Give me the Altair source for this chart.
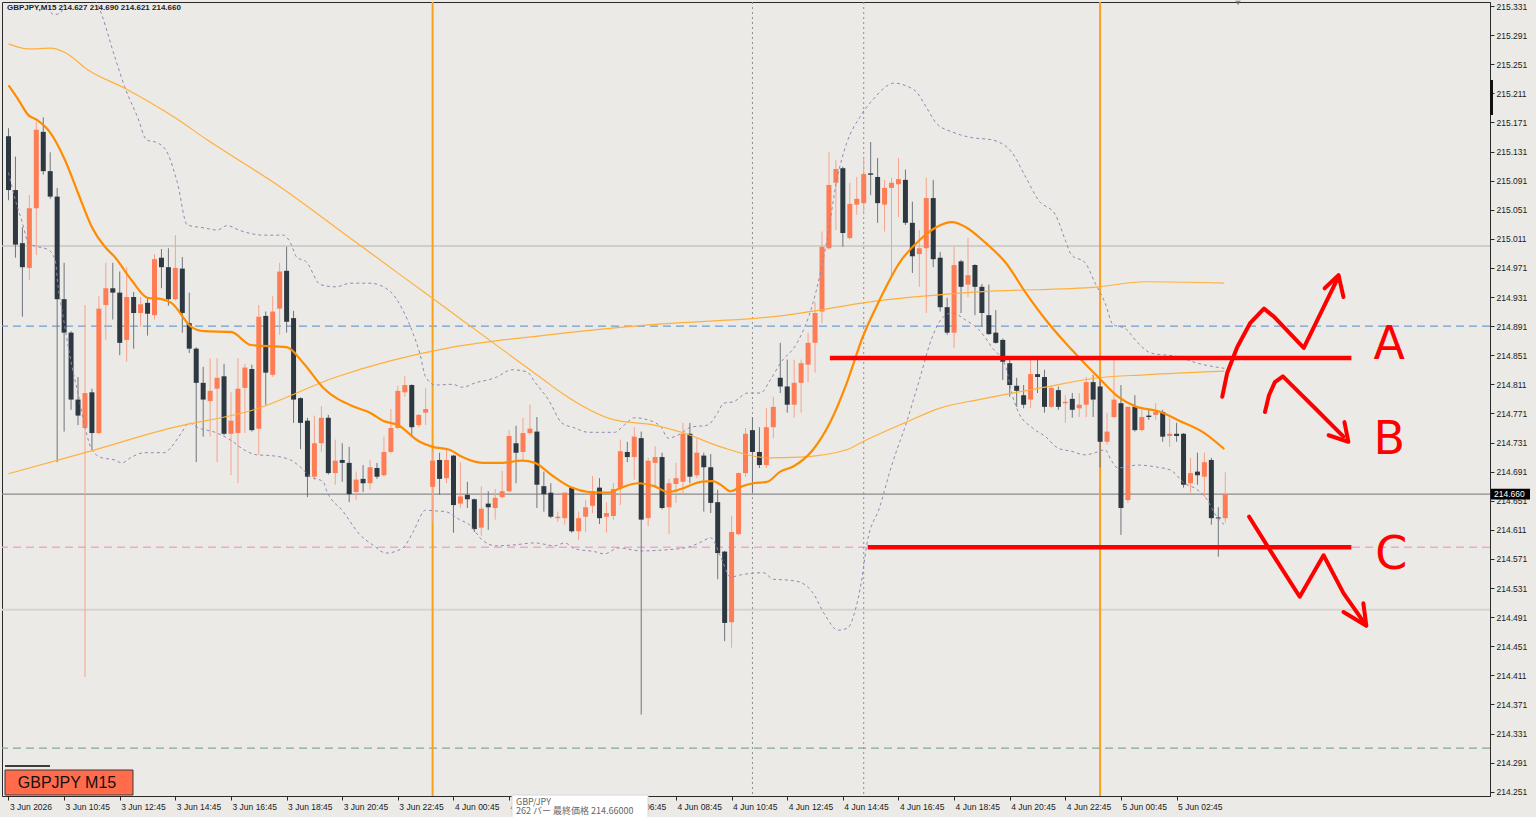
import altair as alt
import pandas as pd

# ---------------- data ----------------
# GBPJPY M15 candles, bar 0 = 3 Jun 2026 08:45 (one bar per 15 minutes)
opens = [
    215.152, 215.078, 215.005, 214.971, 215.053, 215.158, 215.104, 215.069, 214.928, 214.882,
    214.790, 214.751, 214.800, 214.744, 214.920, 214.943, 214.937, 214.872, 214.931, 214.909,
    214.923, 214.906, 214.985, 214.972, 214.928, 214.970, 214.895, 214.860, 214.813, 214.788,
    214.805, 214.822, 214.743, 214.744, 214.806, 214.832, 214.750, 214.905, 214.824, 214.915,
    214.967, 214.902, 214.792, 214.761, 214.684, 214.730, 214.765, 214.689, 214.707, 214.703,
    214.663, 214.681, 214.675, 214.696, 214.686, 214.718, 214.751, 214.800, 214.810, 214.755,
    214.772, 214.670, 214.707, 214.682, 214.713, 214.647, 214.659, 214.653, 214.614, 214.647,
    214.641, 214.656, 214.664, 214.730, 214.718, 214.744, 214.746, 214.671, 214.662, 214.627,
    214.627, 214.669, 214.609, 214.629, 214.644, 214.669, 214.629, 214.630, 214.669, 214.718,
    214.711, 214.737, 214.627, 214.703, 214.711, 214.642, 214.674, 214.677, 214.743, 214.686,
    214.713, 214.697, 214.649, 214.581, 214.484, 214.605, 214.689, 214.748, 214.718, 214.700,
    214.752, 214.820, 214.808, 214.783, 214.813, 214.838, 214.868, 214.911, 214.998, 215.088,
    215.108, 215.012, 215.058, 215.060, 215.101, 215.096, 215.058, 215.081, 215.086, 215.092,
    215.033, 214.990, 214.998, 215.067, 214.985, 214.917, 214.882, 214.980, 214.948, 214.975,
    214.945, 214.906, 214.882, 214.872, 214.840, 214.809, 214.796, 214.790, 214.825, 214.821,
    214.780, 214.803, 214.785, 214.791, 214.778, 214.783, 214.814, 214.808, 214.732, 214.766,
    214.785, 214.652, 214.780, 214.748, 214.768, 214.769, 214.773, 214.740, 214.743, 214.743,
    214.675, 214.691, 214.684, 214.707, 214.628, 214.627,
]
highs = [
    215.163, 215.124, 215.027, 215.071, 215.172, 215.178, 215.130, 215.081, 214.978, 214.884,
    214.821, 214.920, 214.805, 214.932, 214.978, 214.978, 214.966, 214.972, 214.938, 214.931,
    214.930, 214.990, 214.997, 214.998, 215.016, 214.986, 214.937, 214.862, 214.835, 214.847,
    214.847, 214.839, 214.800, 214.847, 214.839, 214.838, 214.920, 214.911, 214.932, 214.978,
    215.000, 214.912, 214.793, 214.765, 214.768, 214.781, 214.769, 214.735, 214.730, 214.725,
    214.691, 214.700, 214.707, 214.703, 214.739, 214.777, 214.809, 214.822, 214.811, 214.770,
    214.806, 214.718, 214.717, 214.721, 214.714, 214.704, 214.677, 214.654, 214.671, 214.664,
    214.667, 214.692, 214.748, 214.754, 214.765, 214.783, 214.766, 214.691, 214.675, 214.636,
    214.663, 214.670, 214.636, 214.652, 214.685, 214.682, 214.649, 214.675, 214.735, 214.732,
    214.752, 214.746, 214.710, 214.726, 214.717, 214.681, 214.703, 214.758, 214.758, 214.737,
    214.717, 214.715, 214.666, 214.582, 214.630, 214.690, 214.751, 214.766, 214.752, 214.778,
    214.794, 214.868, 214.845, 214.845, 214.845, 214.882, 214.924, 215.021, 215.130, 215.119,
    215.110, 215.088, 215.096, 215.122, 215.144, 215.122, 215.092, 215.095, 215.122, 215.106,
    215.062, 215.023, 215.095, 215.092, 214.993, 214.930, 215.000, 214.982, 215.012, 214.976,
    214.949, 214.948, 214.913, 214.874, 214.845, 214.820, 214.810, 214.845, 214.845, 214.831,
    214.808, 214.808, 214.796, 214.799, 214.799, 214.821, 214.824, 214.821, 214.772, 214.849,
    214.810, 214.781, 214.796, 214.776, 214.778, 214.785, 214.776, 214.765, 214.758, 214.744,
    214.710, 214.717, 214.717, 214.710, 214.642, 214.690,
]
lows = [
    215.064, 214.985, 214.904, 214.954, 214.989, 215.099, 215.066, 214.704, 214.746, 214.776,
    214.755, 214.409, 214.721, 214.742, 214.872, 214.900, 214.851, 214.842, 214.860, 214.890,
    214.878, 214.900, 214.943, 214.919, 214.926, 214.882, 214.854, 214.704, 214.739, 214.739,
    214.704, 214.741, 214.686, 214.675, 214.744, 214.746, 214.714, 214.783, 214.821, 214.879,
    214.882, 214.758, 214.722, 214.656, 214.680, 214.718, 214.687, 214.673, 214.677, 214.649,
    214.652, 214.663, 214.666, 214.681, 214.684, 214.716, 214.749, 214.794, 214.741, 214.752,
    214.755, 214.622, 214.659, 214.675, 214.607, 214.641, 214.641, 214.608, 214.603, 214.611,
    214.625, 214.654, 214.663, 214.675, 214.707, 214.742, 214.641, 214.636, 214.627, 214.622,
    214.618, 214.607, 214.597, 214.608, 214.634, 214.619, 214.607, 214.625, 214.645, 214.704,
    214.680, 214.357, 214.616, 214.670, 214.639, 214.605, 214.648, 214.659, 214.675, 214.682,
    214.636, 214.634, 214.543, 214.458, 214.449, 214.603, 214.684, 214.662, 214.696, 214.696,
    214.737, 214.799, 214.772, 214.765, 214.772, 214.814, 214.827, 214.895, 214.996, 215.023,
    215.000, 215.010, 215.044, 215.047, 215.071, 215.033, 215.021, 214.961, 215.041, 215.030,
    214.964, 214.945, 214.909, 214.972, 214.911, 214.879, 214.861, 214.909, 214.931, 214.906,
    214.890, 214.879, 214.867, 214.817, 214.794, 214.780, 214.778, 214.778, 214.799, 214.772,
    214.778, 214.776, 214.758, 214.765, 214.766, 214.766, 214.766, 214.697, 214.728, 214.765,
    214.604, 214.648, 214.746, 214.746, 214.762, 214.762, 214.732, 214.725, 214.732, 214.669,
    214.662, 214.673, 214.656, 214.618, 214.574, 214.621,
]
closes = [
    215.078, 215.003, 214.972, 215.053, 215.161, 215.104, 215.069, 214.928, 214.882, 214.790,
    214.768, 214.799, 214.744, 214.915, 214.943, 214.937, 214.868, 214.931, 214.909, 214.921,
    214.908, 214.983, 214.972, 214.928, 214.971, 214.909, 214.860, 214.813, 214.790, 214.802,
    214.820, 214.743, 214.761, 214.805, 214.834, 214.748, 214.904, 214.827, 214.911, 214.966,
    214.897, 214.790, 214.758, 214.684, 214.730, 214.765, 214.689, 214.706, 214.703, 214.660,
    214.680, 214.675, 214.697, 214.684, 214.718, 214.751, 214.802, 214.810, 214.752, 214.769,
    214.777, 214.706, 214.681, 214.707, 214.645, 214.657, 214.653, 214.612, 214.640, 214.642,
    214.655, 214.664, 214.740, 214.717, 214.744, 214.750, 214.673, 214.660, 214.629, 214.629,
    214.662, 214.609, 214.627, 214.642, 214.664, 214.627, 214.634, 214.667, 214.719, 214.711,
    214.739, 214.625, 214.706, 214.711, 214.641, 214.675, 214.682, 214.743, 214.684, 214.717,
    214.697, 214.648, 214.579, 214.483, 214.608, 214.689, 214.743, 214.718, 214.700, 214.752,
    214.780, 214.808, 214.783, 214.813, 214.840, 214.868, 214.909, 215.000, 215.085, 215.107,
    215.019, 215.059, 215.066, 215.100, 215.099, 215.060, 215.081, 215.088, 215.093, 215.033,
    214.987, 214.998, 215.067, 214.983, 214.917, 214.882, 214.975, 214.945, 214.961, 214.945,
    214.909, 214.880, 214.868, 214.842, 214.810, 214.802, 214.783, 214.825, 214.821, 214.780,
    214.806, 214.780, 214.787, 214.776, 214.783, 214.814, 214.790, 214.732, 214.746, 214.790,
    214.641, 214.780, 214.748, 214.766, 214.766, 214.773, 214.739, 214.743, 214.740, 214.673,
    214.689, 214.686, 214.704, 214.627, 214.627, 214.660,
]

# time-axis labels (every 8 bars = 2 hours); the 04:45 one sits under the tooltip
time_labels = [
    "3 Jun 2026", "3 Jun 10:45", "3 Jun 12:45", "3 Jun 14:45", "3 Jun 16:45", "3 Jun 18:45",
    "3 Jun 20:45", "3 Jun 22:45", "4 Jun 00:45", "4 Jun 02:45", "", "4 Jun 06:45",
    "4 Jun 08:45", "4 Jun 10:45", "4 Jun 12:45", "4 Jun 14:45", "4 Jun 16:45", "4 Jun 18:45",
    "4 Jun 20:45", "4 Jun 22:45", "5 Jun 00:45", "5 Jun 02:45",
]
label_bars = [0, 8, 16, 24, 32, 40, 48, 56, 64, 72, 80, 88, 96, 104, 112, 120, 128, 136, 144,
              152, 160, 168]
price_ticks = [214.251, 214.291, 214.331, 214.371, 214.411, 214.451, 214.491, 214.531, 214.571,
               214.611, 214.651, 214.691, 214.731, 214.771, 214.811, 214.851, 214.891, 214.931,
               214.971, 215.011, 215.051, 215.091, 215.131, 215.171, 215.211, 215.251, 215.291,
               215.331]

# fast moving average (thick orange)
ma_fast_bar = [0, 1.43, 2.86, 4.14, 6, 8.14, 10, 12, 13.86, 15.29, 17.71, 20, 22, 23.43, 26.29,
               28.14, 32, 34.86, 40, 42.43, 45.29, 50, 52, 53.86, 56, 59.14, 61, 63.43, 65.29,
               68.14, 71, 73.86, 75.71, 78.14, 81, 83.43, 86.29, 88.14, 90.57, 92.86, 94.86,
               96.71, 99.57, 101.29, 102.43, 103.86, 105.29, 107.14, 109.14, 111, 112.86, 115.71,
               118.14, 120.57, 122.86, 125.29, 128.14, 131, 133.43, 135.71, 137.71, 140.57,
               143.43, 146.29, 149.14, 152, 153.86, 156.71, 159.57, 162, 165.71, 168.14, 172,
               174.86]
ma_fast_val = [215.222, 215.202, 215.181, 215.174, 215.157, 215.119, 215.074, 215.027, 215.000,
               214.986, 214.954, 214.930, 214.928, 214.923, 214.890, 214.884, 214.883, 214.865,
               214.862, 214.840, 214.806, 214.779, 214.772, 214.761, 214.755, 214.732, 214.725,
               214.721, 214.711, 214.703, 214.703, 214.706, 214.703, 214.686, 214.669, 214.663,
               214.662, 214.669, 214.675, 214.671, 214.663, 214.667, 214.677, 214.678, 214.673,
               214.664, 214.670, 214.675, 214.677, 214.691, 214.698, 214.721, 214.758, 214.813,
               214.876, 214.927, 214.978, 215.009, 215.027, 215.034, 215.027, 215.005, 214.978,
               214.937, 214.900, 214.868, 214.849, 214.821, 214.794, 214.781, 214.773, 214.762,
               214.744, 214.722]
# middle moving average (thin orange, falling then flat)
ma_mid_bar = [0, 2.86, 6, 8.14, 11.43, 16.71, 23.86, 28.57, 39.14, 49.57, 56.71, 63.86, 77,
              79.57, 87.14, 92.86, 97.14, 102.43, 109.14, 113.86, 120.57, 122.86, 129.14,
              133.86, 139.57, 149.14, 156.71, 163.43, 174.86]
ma_mid_val = [215.279, 215.272, 215.273, 215.267, 215.243, 215.218, 215.178, 215.147, 215.082,
              215.009, 214.959, 214.909, 214.817, 214.799, 214.762, 214.755, 214.744, 214.725,
              214.710, 214.711, 214.721, 214.732, 214.759, 214.778, 214.790, 214.807, 214.820,
              214.824, 214.829]
# slow moving average (thin orange, rising)
ma_slow_bar = [0, 11, 23.43, 35.29, 47.14, 63.86, 76.71, 92.43, 111, 125.29, 139.57, 156.71,
               163.43, 174.86]
ma_slow_val = [214.688, 214.717, 214.751, 214.776, 214.821, 214.862, 214.878, 214.893, 214.905,
               214.926, 214.938, 214.945, 214.952, 214.950]
# Bollinger upper band
bb_up_bar = [0, 3.86, 5.71, 6.43, 7.43, 8.14, 9.86, 11.71, 12.86, 15.29, 16.71, 18.57, 19.86,
             21.43, 22.86, 24.29, 25.71, 28.14, 30, 31.43, 33.43, 36.71, 39.57, 40.57, 41.43,
             42.86, 44.86, 47.14, 49.14, 52, 54.86, 56.71, 58.14, 59.14, 60, 61.43, 63.86, 65.29,
             67.14, 70, 72.43, 74.57, 75.71, 77.71, 79.57, 81.43, 83.43, 87.14, 88.57, 90, 92,
             93.86, 94.86, 96.29, 98.14, 100.57, 102, 102.86, 104.29, 106.29, 108.14, 109.57,
             111, 113.43, 115.71, 117.71, 119.14, 120.57, 122.43, 124.29, 127.43, 129.14,
             130.57, 132, 133.43, 135.71, 138.57, 141.43, 144.29, 146.29, 148.14, 150.57, 152,
             152.86, 154.86, 156.29, 157.71, 158.86, 160.57, 162.43, 164.29, 168.14, 171,
             174.86]
bb_up_val = [215.422, 215.360, 215.332, 215.319, 215.321, 215.334, 215.350, 215.348, 215.332,
             215.261, 215.220, 215.178, 215.147, 215.143, 215.129, 215.088, 215.030, 215.026,
             215.023, 215.029, 215.022, 215.016, 215.016, 215.005, 214.986, 214.979, 214.948,
             214.945, 214.950, 214.950, 214.939, 214.913, 214.882, 214.854, 214.821, 214.810,
             214.811, 214.807, 214.813, 214.820, 214.831, 214.828, 214.814, 214.789, 214.758,
             214.751, 214.745, 214.745, 214.755, 214.765, 214.762, 214.752, 214.737, 214.741,
             214.752, 214.755, 214.772, 214.785, 214.787, 214.799, 214.799, 214.817, 214.840,
             214.868, 214.923, 215.009, 215.092, 215.143, 215.178, 215.202, 215.225, 215.221,
             215.213, 215.192, 215.170, 215.158, 215.150, 215.147, 215.130, 215.096, 215.064,
             215.044, 215.009, 214.989, 214.978, 214.950, 214.923, 214.893, 214.888, 214.868,
             214.854, 214.849, 214.840, 214.833]
# Bollinger lower band
bb_lo_bar = [0, 1, 2, 2.86, 4.29, 5.71, 6.71, 7.14, 7.86, 9.14, 10, 11, 12, 13.43, 15.29, 16.29,
             17.71, 19.57, 22.43, 23.43, 24.86, 26, 27.14, 30, 32, 33.86, 35.71, 37.71, 40.57,
             42, 43.43, 45.29, 45.71, 48.14, 50.57, 52.43, 54.29, 56.71, 58.14, 60, 61.43,
             62.86, 64.86, 66.29, 68.14, 70, 72.43, 75.71, 78.57, 80, 81.43, 84.29, 85.71,
             87.71, 91, 93.86, 97.71, 99.57, 101, 102.43, 103.86, 105.29, 108.57, 110, 112,
             113.86, 115.57, 117.43, 119.29, 120.71, 121.71, 122.71, 123.43, 125.29, 127.14,
             129.14, 131, 132.86, 134.29, 135.71, 137.71, 139.57, 141.43, 143.43, 144.29,
             145.29, 147.14, 149.14, 151, 152.86, 154.86, 156.29, 157.71, 158.57, 159.57,
             162.43, 165.29, 167.14, 169.14, 171, 172.43, 173.43, 174.86]
bb_lo_val = [215.102, 215.064, 215.033, 215.005, 215.000, 214.996, 214.982, 214.945, 214.904,
             214.835, 214.799, 214.752, 214.721, 214.710, 214.707, 214.703, 214.711, 214.717,
             214.717, 214.725, 214.744, 214.758, 214.752, 214.744, 214.734, 214.721, 214.714,
             214.713, 214.707, 214.697, 214.684, 214.677, 214.666, 214.636, 214.604, 214.590,
             214.579, 214.586, 214.607, 214.638, 214.637, 214.636, 214.625, 214.618, 214.597,
             214.589, 214.590, 214.593, 214.589, 214.593, 214.585, 214.581, 214.578, 214.586,
             214.582, 214.583, 214.587, 214.594, 214.600, 214.574, 214.546, 214.549, 214.552,
             214.543, 214.542, 214.539, 214.526, 214.494, 214.473, 214.476, 214.498, 214.542,
             214.590, 214.642, 214.703, 214.758, 214.817, 214.876, 214.902, 214.909, 214.899,
             214.886, 214.862, 214.835, 214.799, 214.772, 214.752, 214.739, 214.723, 214.719,
             214.714, 214.717, 214.721, 214.707, 214.696, 214.700, 214.697, 214.693, 214.675,
             214.666, 214.652, 214.634, 214.618]

# horizontal price levels drawn on the chart
level_upper_grey = 215.001
level_blue = 214.891
level_pink = 214.587
level_lower_grey = 214.501
level_green = 214.311
# day separators and dotted vertical marks (bar numbers)
day_separator_bars = [61, 157]
dotted_mark_bars = [107, 123]

# hand-drawn scenario annotation (bar, price)
red_levels_price = [214.847, 214.587]
red_levels_from = [118.14, 123.57]
red_levels_to = [193.14, 193.14]
red_path_id = (["A"] * 8 + ["Ah"] * 3 + ["B"] * 7 + ["Bh"] * 3 + ["C"] * 6 + ["Ch"] * 3)
red_path_bar = [174.57, 175.29, 176.71, 178.57, 180.57, 182.0, 186.29, 191.29,
                189.29, 191.29, 192.0,
                180.71, 181.29, 182.14, 183.29, 185.29, 188.14, 192.0,
                189.86, 192.71, 192.14,
                178.43, 181.43, 185.71, 189.14, 192.0, 195.0,
                192.0, 195.29, 194.86]
red_path_price = [214.794, 214.827, 214.862, 214.895, 214.915, 214.904, 214.861, 214.959,
                  214.943, 214.961, 214.931,
                  214.773, 214.796, 214.814, 214.822, 214.803, 214.776, 214.739,
                  214.741, 214.732, 214.759,
                  214.629, 214.583, 214.519, 214.576, 214.524, 214.483,
                  214.498, 214.479, 214.510]
scenario_letters = ["A", "B", "C"]
scenario_letter_bar = [198.6, 198.6, 198.9]
scenario_letter_price = [214.865, 214.735, 214.576]

# ---------------- styling ----------------
BG = "#ECEAE6"
UP = "#FF7D55"
UP_WICK = "#F6A38B"
DN = "#2D3841"
DN_WICK = "#6E757C"
MA_FAST = "#FF8C00"
MA_THIN = "#FFB03C"
BB = "#9288B2"
RED = "#FF0000"
FONT = "Liberation Sans"

W, H = 1488, 794
xs = alt.Scale(domain=[-0.2143, 212.357], nice=False, zero=False)
ys = alt.Scale(domain=[214.2451, 215.3365], nice=False, zero=False)

label_expr = "[" + ",".join("'%s'" % s for s in time_labels) + "][round(datum.value / 8)]"
x_axis = alt.Axis(values=label_bars, labelExpr=label_expr, grid=False, title=None,
                  orient="bottom", domainColor="#2a2a2a", tickColor="#2a2a2a", tickSize=4,
                  labelAlign="left", labelBaseline="top", labelPadding=2, labelOffset=1,
                  labelFontSize=8.5, labelFont=FONT, labelColor="#1a1a1a", labelOverlap=False,
                  labelFlush=False)
y_axis = alt.Axis(values=price_ticks, format=".3f", grid=False, title=None, orient="right",
                  domainColor="#2a2a2a", tickColor="#2a2a2a", tickSize=4, labelPadding=2,
                  labelFontSize=8.5, labelFont=FONT, labelColor="#1a1a1a", labelOverlap=False,
                  labelFlush=False)


def xq(f):
    return alt.X(f, type="quantitative", scale=xs, axis=x_axis)


def yq(f):
    return alt.Y(f, type="quantitative", scale=ys, axis=y_axis)


bars = pd.DataFrame({"bar": list(range(len(opens))), "open": opens, "high": highs,
                     "low": lows, "close": closes})
is_up = "datum.close >= datum.open"


def hline(price, color, width, dash=None):
    kw = dict(color=color, strokeWidth=width)
    if dash:
        kw["strokeDash"] = dash
    return alt.Chart(pd.DataFrame({"price": [price]})).mark_rule(**kw).encode(y=yq("price"))


def vlines(bar_list, color, width, dash=None):
    kw = dict(color=color, strokeWidth=width)
    if dash:
        kw["strokeDash"] = dash
    return alt.Chart(pd.DataFrame({"bar": bar_list})).mark_rule(**kw).encode(x=xq("bar"))


def curve(bx, vals, color, width, dash=None):
    kw = dict(color=color, strokeWidth=width, clip=True, interpolate="monotone")
    if dash:
        kw["strokeDash"] = dash
    df = pd.DataFrame({"bar": bx, "price": vals})
    return alt.Chart(df).mark_line(**kw).encode(x=xq("bar"), y=yq("price"))


wicks = alt.Chart(bars).mark_rule(strokeWidth=1, clip=True).encode(
    x=xq("bar"), y=yq("low"), y2="high",
    color=alt.condition(is_up, alt.value(UP_WICK), alt.value(DN_WICK)),
)
bodies = alt.Chart(bars).transform_calculate(
    b_hi="max(datum.open, datum.close)",
    b_lo="min(datum.open, datum.close) - max(0, 0.0014 - abs(datum.close - datum.open))",
).mark_bar(size=5, clip=True).encode(
    x=xq("bar"), y=yq("b_lo"), y2="b_hi:Q",
    color=alt.condition(is_up, alt.value(UP), alt.value(DN)),
)

layers = [
    bodies.mark_bar(size=5, clip=True, opacity=0),  # axes carrier
    hline(level_upper_grey, "#C6C4C0", 1.5),
    hline(level_lower_grey, "#D6D4D0", 2),
    hline(level_blue, "#6E9DD2", 1.2, [8, 5]),
    hline(level_pink, "#F2A6CC", 1.5, [8, 5]),
    hline(level_green, "#7FAE8E", 1.2, [8, 5]),
    hline(closes[-1], "#8A8A8A", 1.2),
    vlines(dotted_mark_bars, "#8E8E8E", 1, [2, 3]),
    vlines(day_separator_bars, "#F6A21E", 2),
    wicks,
    bodies,
    curve(bb_up_bar, bb_up_val, BB, 1, [3, 3]),
    curve(bb_lo_bar, bb_lo_val, BB, 1, [3, 3]),
    curve(ma_slow_bar, ma_slow_val, MA_THIN, 1.2),
    curve(ma_mid_bar, ma_mid_val, MA_THIN, 1.2),
    curve(ma_fast_bar, ma_fast_val, MA_FAST, 2.2),
]

# red scenario drawing
red_lv = pd.DataFrame({"price": red_levels_price, "b0": red_levels_from, "b1": red_levels_to})
layers.append(alt.Chart(red_lv).mark_rule(color=RED, strokeWidth=4.5).encode(
    x=xq("b0"), x2="b1", y=yq("price")))
red_df = pd.DataFrame({"seg": red_path_id, "bar": red_path_bar, "price": red_path_price,
                       "ord": list(range(len(red_path_bar)))})
layers.append(alt.Chart(red_df).mark_line(color=RED, strokeWidth=4, strokeCap="round",
                                          strokeJoin="round").encode(
    x=xq("bar"), y=yq("price"), detail="seg:N", order="ord:Q"))
letters = pd.DataFrame({"t": scenario_letters, "bar": scenario_letter_bar,
                        "price": scenario_letter_price})
layers.append(alt.Chart(letters).mark_text(color=RED, fontSize=46, font="DejaVu Sans",
                                           align="center", baseline="middle").encode(
    x=xq("bar"), y=yq("price"), text="t:N"))

# header text with the last bar's OHLC
title_text = "GBPJPY,M15  %.3f %.3f %.3f %.3f" % (opens[-1], highs[-1], lows[-1], closes[-1])
one = pd.DataFrame({"t": [title_text]})
layers.append(alt.Chart(one).mark_text(align="left", baseline="middle", fontSize=8,
                                       font=FONT, fontWeight="bold", color="#1E1E1E").encode(
    x=alt.value(5), y=alt.value(6), text="t:N"))

# symbol label box bottom-left
sym = pd.DataFrame({"t": ["GBPJPY M15"]})
layers.append(alt.Chart(sym).mark_rule(color="#3C3C3C", strokeWidth=2).encode(
    x=alt.value(3), x2=alt.value(48), y=alt.value(764)))
layers.append(alt.Chart(sym).mark_rect(fill="#FF6B4B", stroke="#3a3a3a", strokeWidth=1).encode(
    x=alt.value(3), x2=alt.value(131), y=alt.value(768), y2=alt.value(793)))
layers.append(alt.Chart(sym).mark_text(fontSize=16, font=FONT, color="#111111",
                                       align="center", baseline="middle").encode(
    x=alt.value(65), y=alt.value(781), text="t:N"))

# current price tag on the axis
tag = pd.DataFrame({"price": [closes[-1]], "t": ["%.3f" % closes[-1]]})
tag_half = 0.0075
layers.append(alt.Chart(tag).transform_calculate(
    top="datum.price + %f" % tag_half, bot="datum.price - %f" % tag_half
).mark_rect(fill="#000000").encode(
    x=alt.value(W + 1), x2=alt.value(W + 40), y=yq("top"), y2="bot:Q"))
layers.append(alt.Chart(tag).mark_text(align="left", baseline="middle", fontSize=8.5, font=FONT,
                                       color="#FFFFFF").encode(
    x=alt.value(W + 4), y=yq("price"), text="t:N"))

# scale marker on the price axis and the shift marker at the top
layers.append(alt.Chart(sym).mark_rule(color="#111111", strokeWidth=3).encode(
    x=alt.value(W + 1.5), y=alt.value(78), y2=alt.value(113)))
layers.append(alt.Chart(sym).mark_point(shape="triangle-down", filled=True, size=30,
                                        color="#666666").encode(
    x=alt.value(1236), y=alt.value(1)))

# hover tooltip box at the bottom
layers.append(alt.Chart(sym).mark_rect(fill="#FFFFFF", stroke="#D8D8D8").encode(
    x=alt.value(510), x2=alt.value(646), y=alt.value(793), y2=alt.value(816)))
layers.append(alt.Chart(pd.DataFrame({"t": ["GBP/JPY"]})).mark_text(
    align="left", baseline="middle", fontSize=9, font="Noto Sans CJK JP", color="#666666"
).encode(x=alt.value(514), y=alt.value(800), text="t:N"))
layers.append(alt.Chart(pd.DataFrame({"t": ["262 バー 最終価格 214.66000"]})).mark_text(
    align="left", baseline="middle", fontSize=9, font="Noto Sans CJK JP", color="#666666"
).encode(x=alt.value(514), y=alt.value(809), text="t:N"))

chart = alt.layer(*layers).properties(
    width=W, height=H,
    padding={"left": 2, "top": 2, "right": 46, "bottom": 21},
    autosize=alt.AutoSizeParams(type="none"),
    background=BG,
).configure_view(stroke="#2a2a2a", strokeWidth=1, fill=BG)

chart.save("out.html", embed_options={"renderer": "svg", "actions": False})
